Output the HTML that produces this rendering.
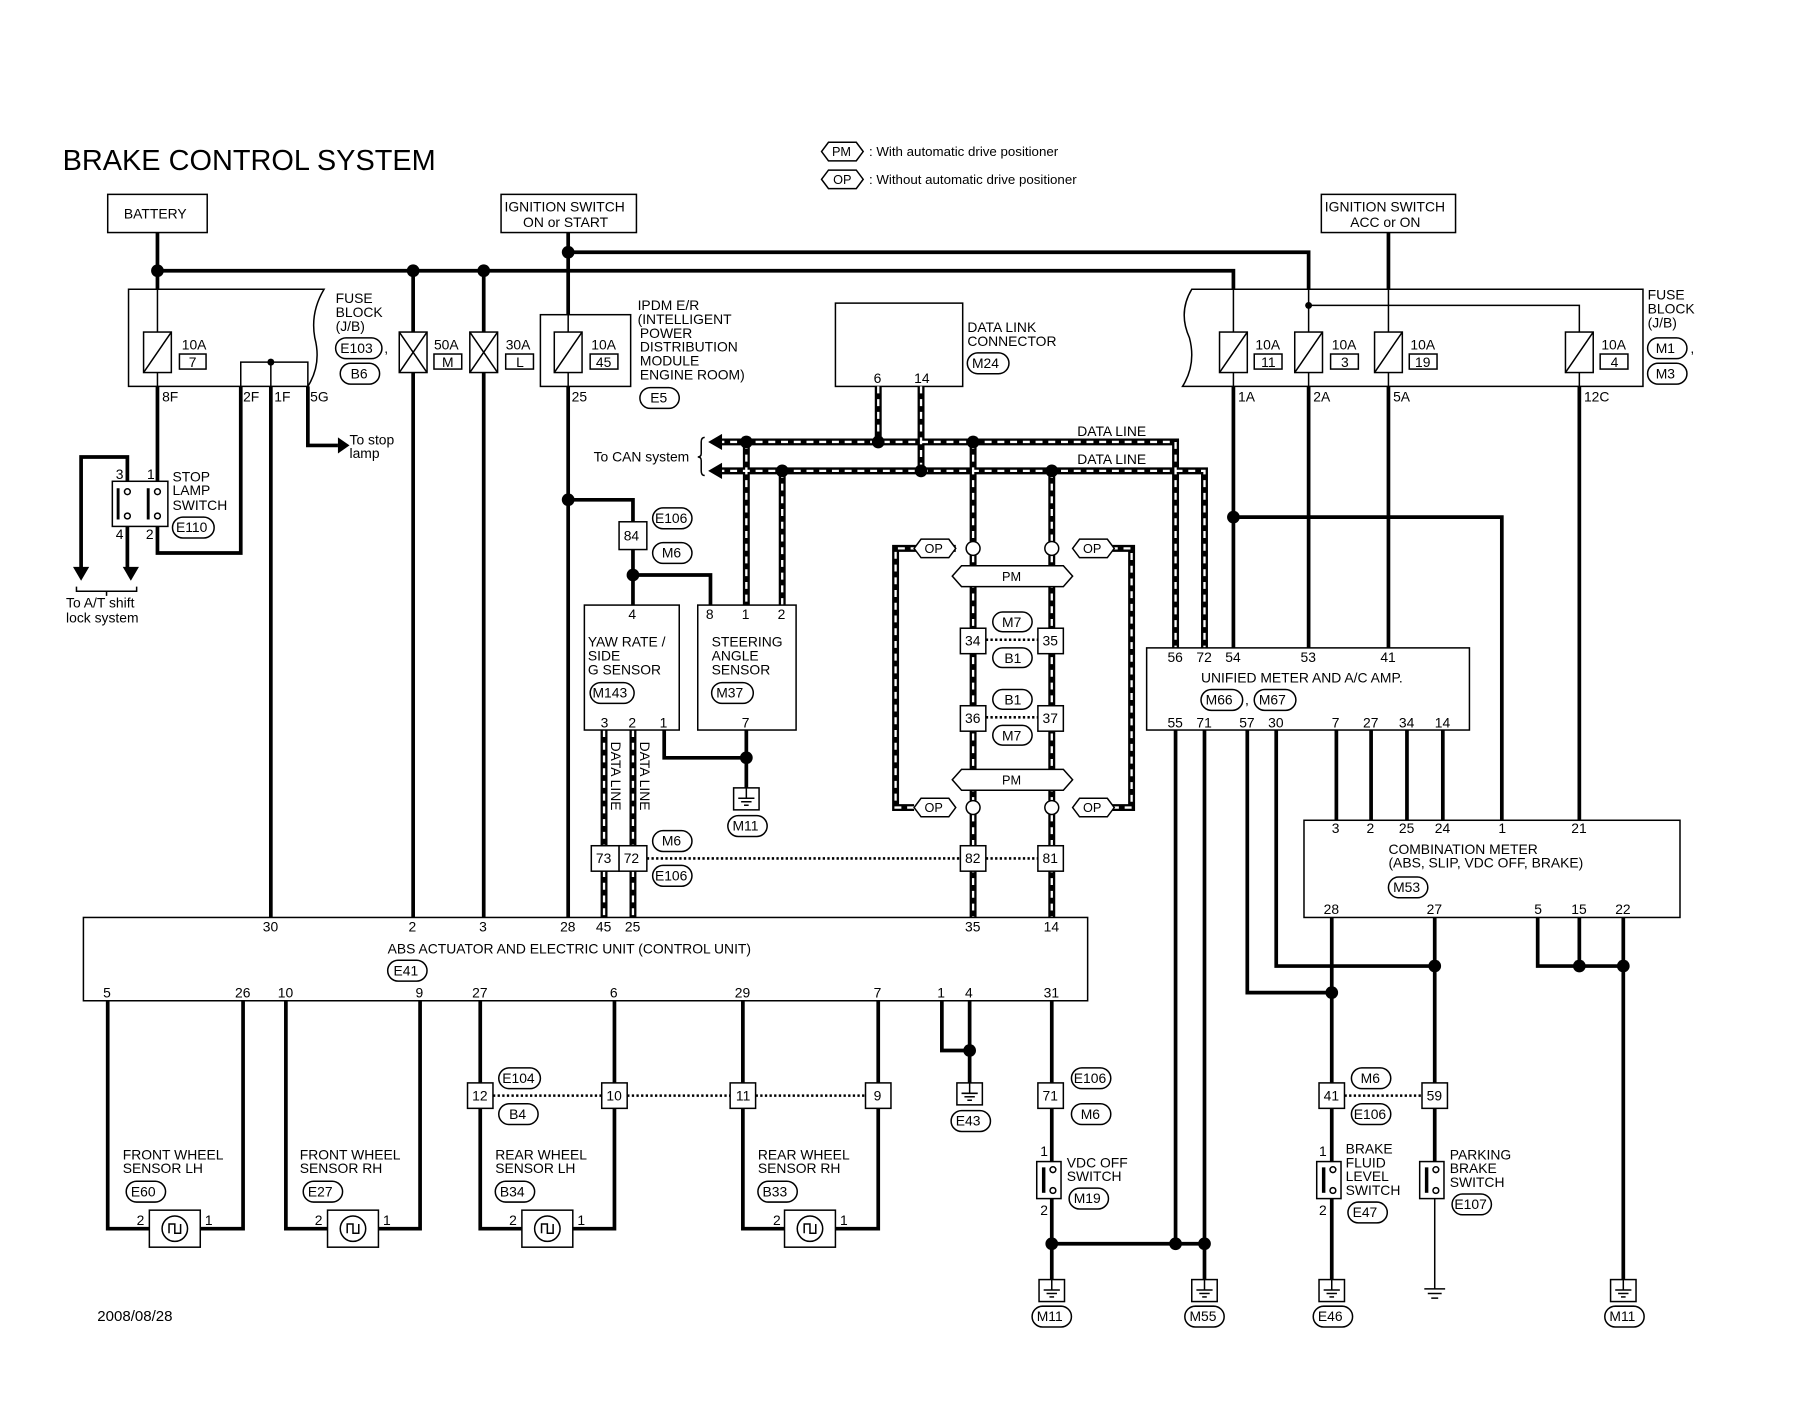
<!DOCTYPE html>
<html><head><meta charset="utf-8"><style>
html,body{margin:0;padding:0;background:#fff}
svg{display:block}
text{font-family:"Liberation Sans",Arial,sans-serif;font-size:12px;fill:#000}
.t{stroke:#000;stroke-width:3.2;fill:none}
.n{stroke:#000;stroke-width:1.3;fill:none}
.b{stroke:#000;stroke-width:1.3;fill:#fff}
.dk{stroke:#000;stroke-width:6;fill:none}
.dw{stroke:#fff;stroke-width:2;fill:none;stroke-dasharray:6 5}
.dot{stroke:#000;stroke-width:2.2;fill:none;stroke-dasharray:2 2}
.ov{stroke:#000;stroke-width:1.3;fill:#fff}
</style></head><body>
<svg width="1812" height="1408" viewBox="0 0 1566 1217" xmlns="http://www.w3.org/2000/svg">
<defs>
<g id="fz"><rect x="-12" y="0" width="24" height="35" class="b"/><line x1="-12" y1="35" x2="12" y2="0" class="n"/></g>
<g id="fx"><rect x="-12" y="0" width="24" height="35" class="b"/><line x1="-12" y1="35" x2="12" y2="0" class="n"/><line x1="-12" y1="0" x2="12" y2="35" class="n"/></g>
<g id="gnd"><rect x="-11" y="0" width="22" height="19" class="b"/><line x1="0" y1="0" x2="0" y2="9" class="n"/><line x1="-7" y1="9" x2="7" y2="9" class="n"/><line x1="-4.5" y1="12" x2="4.5" y2="12" class="n"/><line x1="-2" y1="15" x2="2" y2="15" class="n"/></g>
<g id="sen"><rect x="-22" y="-16" width="44" height="32" class="b"/><circle cx="0" cy="0" r="11" class="b"/><path d="M-5 4 V-4 H0 V4 H5 V-4" class="n"/></g>
<g id="sw"><rect x="-10" y="0" width="21" height="32" class="b"/><line x1="-4" y1="5" x2="-4" y2="27" stroke="#000" stroke-width="3"/><circle cx="4" cy="7" r="2.5" class="b"/><circle cx="4" cy="25" r="2.5" class="b"/></g>
<circle id="d" r="5.5" fill="#000"/>
</defs>

<!-- title & legend -->
<text x="54" y="147" style="font-size:25px">BRAKE CONTROL SYSTEM</text>
<path d="M710 131 l6 -8 h24 l6 8 l-6 8 h-24z" class="b"/><text x="719" y="135" style="font-size:11px">PM</text>
<text x="751" y="135" style="font-size:11.5px">: With automatic drive positioner</text>
<path d="M710 155 l6 -8 h24 l6 8 l-6 8 h-24z" class="b"/><text x="720" y="159" style="font-size:11px">OP</text>
<text x="751" y="159" style="font-size:11.5px">: Without automatic drive positioner</text>

<!-- source boxes -->
<rect x="93" y="168" width="86" height="33" class="b"/><text x="107" y="189">BATTERY</text>
<rect x="433" y="168" width="117" height="33" class="b"/><text x="436" y="183">IGNITION SWITCH</text><text x="452" y="196">ON or START</text>
<rect x="1142" y="168" width="116" height="33" class="b"/><text x="1145" y="183">IGNITION SWITCH</text><text x="1167" y="196">ACC or ON</text>

<!-- main busses -->
<path d="M136 201 V250 M136 234 H1066 V250" class="t"/>
<path d="M491 201 V272 M491 218 H1131 V250" class="t"/>
<path d="M1200 201 V250" class="t"/>
<use href="#d" x="136" y="234"/><use href="#d" x="357" y="234"/><use href="#d" x="418" y="234"/><use href="#d" x="491" y="218"/>

<!-- left fuse block -->
<path d="M111 250 H280 Q268 270 272 292 Q278 315 266 334 H111 Z" class="b"/>
<path d="M136 250 V287 M136 322 V334" class="n"/>
<use href="#fz" x="136" y="287"/>
<text x="157" y="302">10A</text><rect x="155" y="306" width="23" height="13" class="b"/><text x="163" y="317">7</text>
<path d="M208 334 V313 H266 V334 M234 313 V334" class="n"/><circle cx="234" cy="313" r="3" fill="#000"/>
<text x="290" y="262">FUSE</text><text x="290" y="274">BLOCK</text><text x="290" y="286">(J/B)</text>
<rect x="290" y="292" width="40" height="18" rx="9" class="ov"/><text x="294" y="305">E103</text><text x="332" y="305">,</text>
<rect x="294" y="314" width="34" height="18" rx="9" class="ov"/><text x="303" y="327">B6</text>
<text x="140" y="347">8F</text><text x="210" y="347">2F</text><text x="237" y="347">1F</text><text x="268" y="347">5G</text>

<!-- 50A 30A -->
<path d="M357 234 V793 M418 234 V793" class="t"/>
<use href="#fx" x="357" y="287"/><use href="#fx" x="418" y="287"/>
<text x="375" y="302">50A</text><rect x="375" y="306" width="24" height="13" class="b"/><text x="382" y="317">M</text>
<text x="437" y="302">30A</text><rect x="437" y="306" width="24" height="13" class="b"/><text x="446" y="317">L</text>

<!-- IPDM -->
<rect x="467" y="272" width="78" height="62" class="b"/>
<path d="M491 272 V287 M491 322 V334" class="n"/><use href="#fz" x="491" y="287"/>
<text x="511" y="302">10A</text><rect x="510" y="306" width="24" height="13" class="b"/><text x="515" y="317">45</text>
<text x="551" y="268">IPDM E/R</text><text x="551" y="280">(INTELLIGENT</text><text x="553" y="292">POWER</text><text x="553" y="304">DISTRIBUTION</text><text x="553" y="316">MODULE</text><text x="553" y="328">ENGINE ROOM)</text>
<text x="494" y="347">25</text>
<rect x="553" y="335" width="34" height="18" rx="9" class="ov"/><text x="562" y="348">E5</text>

<!-- DLC -->
<rect x="722" y="262" width="110" height="72" class="b"/>
<text x="755" y="331">6</text><text x="790" y="331">14</text>
<text x="836" y="287">DATA LINK</text><text x="836" y="299">CONNECTOR</text>
<rect x="836" y="305" width="36" height="18" rx="9" class="ov"/><text x="840" y="318">M24</text>

<!-- right fuse block -->
<path d="M1030 250 H1420 V334 H1022 Q1034 315 1028 292 Q1018 270 1030 250 Z" class="b"/>
<path d="M1066 250 V287 M1066 322 V334 M1131 250 V287 M1131 322 V334 M1200 250 V287 M1200 322 V334 M1131 264 H1365 V287 M1365 322 V334" class="n"/>
<circle cx="1131" cy="264" r="3" fill="#000"/>
<use href="#fz" x="1066" y="287"/><use href="#fz" x="1131" y="287"/><use href="#fz" x="1200" y="287"/><use href="#fz" x="1365" y="287"/>
<text x="1085" y="302">10A</text><rect x="1084" y="306" width="24" height="13" class="b"/><text x="1090" y="317">11</text>
<text x="1151" y="302">10A</text><rect x="1150" y="306" width="24" height="13" class="b"/><text x="1159" y="317">3</text>
<text x="1219" y="302">10A</text><rect x="1218" y="306" width="24" height="13" class="b"/><text x="1223" y="317">19</text>
<text x="1384" y="302">10A</text><rect x="1383" y="306" width="24" height="13" class="b"/><text x="1392" y="317">4</text>
<text x="1424" y="259">FUSE</text><text x="1424" y="271">BLOCK</text><text x="1424" y="283">(J/B)</text>
<rect x="1424" y="292" width="34" height="18" rx="9" class="ov"/><text x="1431" y="305">M1</text><text x="1461" y="305">,</text>
<rect x="1424" y="314" width="34" height="18" rx="9" class="ov"/><text x="1431" y="327">M3</text>
<text x="1070" y="347">1A</text><text x="1135" y="347">2A</text><text x="1204" y="347">5A</text><text x="1369" y="347">12C</text>

<!-- stop lamp switch -->
<path d="M136 334 V416 M136 455 V478 H208 V334" class="t"/>
<path d="M266 334 V385 H292" class="t"/><path d="M292 378 L302 385 L292 392Z" fill="#000"/>
<text x="302" y="384">To stop</text><text x="302" y="396">lamp</text>
<rect x="97" y="416" width="48" height="39" class="b"/>
<line x1="102" y1="422" x2="102" y2="449" stroke="#000" stroke-width="2.5"/><line x1="128" y1="422" x2="128" y2="449" stroke="#000" stroke-width="2.5"/>
<circle cx="110" cy="425" r="2.5" class="b"/><circle cx="110" cy="446" r="2.5" class="b"/><circle cx="136" cy="425" r="2.5" class="b"/><circle cx="136" cy="446" r="2.5" class="b"/>
<text x="100" y="414">3</text><text x="127" y="414">1</text><text x="100" y="466">4</text><text x="126" y="466">2</text>
<path d="M110 416 V395 H70 V492 M110 455 V492" class="t"/>
<path d="M63 490 L70 502 L77 490Z M106 490 L113 502 L120 490Z" fill="#000"/>
<path d="M66 507 V511 H118 V507 M92 511 V515" class="n"/>
<text x="57" y="525">To A/T shift</text><text x="57" y="538">lock system</text>
<text x="149" y="416">STOP</text><text x="149" y="428">LAMP</text><text x="149" y="441">SWITCH</text>
<rect x="149" y="447" width="36" height="18" rx="9" class="ov"/><text x="152" y="460">E110</text>

<!-- 1F down -->
<path d="M234 334 V793" class="t"/>
<!-- IPDM 25 down -->
<path d="M491 334 V793 M491 432 H547 V451 M547 475 V523 M547 497 H614 V523" class="t"/>
<use href="#d" x="491" y="432"/><use href="#d" x="547" y="497"/>
<rect x="535" y="451" width="24" height="24" class="b"/><text x="539" y="467">84</text>
<rect x="564" y="439" width="34" height="18" rx="9" class="ov"/><text x="566" y="452">E106</text>
<rect x="564" y="469" width="34" height="18" rx="9" class="ov"/><text x="572" y="482">M6</text>

<!-- data lines -->
<g>
<path d="M620 382 H1016 V560 M620 407 H1041 V560 M645 382 V523 M676 407 V523 M759 334 V382 M796 334 V407 M841 382 V468 M909 407 V468 M522 631 V793 M547 631 V793
M826 474 H774 V698 H790 M960 474 H978 V698 H960 M841 480 V692 M909 480 V692 M841 704 V793 M909 704 V793" class="dk"/>
<path d="M620 382 H1016 V560 M620 407 H1041 V560 M645 382 V523 M676 407 V523 M759 334 V382 M796 334 V407 M841 382 V468 M909 407 V468 M522 631 V793 M547 631 V793
M826 474 H774 V698 H790 M960 474 H978 V698 H960 M841 480 V692 M909 480 V692 M841 704 V793 M909 704 V793" class="dw"/>
</g>
<path d="M624 375 L612 382 L624 389Z M624 400 L612 407 L624 414Z" fill="#000"/>
<path d="M609 378 Q606 378 606 382 V392 Q606 395 603 395 Q606 395 606 398 V407 Q606 411 609 411" class="n"/>
<text x="513" y="399">To CAN system</text>
<text x="931" y="377">DATA LINE</text><text x="931" y="401">DATA LINE</text>
<use href="#d" x="645" y="382"/><use href="#d" x="759" y="382"/><use href="#d" x="841" y="382"/><use href="#d" x="676" y="407"/><use href="#d" x="796" y="407"/><use href="#d" x="909" y="407"/>

<!-- middle OP/PM -->
<circle cx="841" cy="474" r="6" class="b"/><circle cx="909" cy="474" r="6" class="b"/>
<circle cx="841" cy="698" r="6" class="b"/><circle cx="909" cy="698" r="6" class="b"/>
<path d="M790 474 l6 -8 h24 l6 8 l-6 8 h-24z" class="b"/><text x="799" y="478" style="font-size:11px">OP</text>
<path d="M927 474 l6 -8 h24 l6 8 l-6 8 h-24z" class="b"/><text x="936" y="478" style="font-size:11px">OP</text>
<path d="M790 698 l6 -8 h24 l6 8 l-6 8 h-24z" class="b"/><text x="799" y="702" style="font-size:11px">OP</text>
<path d="M927 698 l6 -8 h24 l6 8 l-6 8 h-24z" class="b"/><text x="936" y="702" style="font-size:11px">OP</text>
<path d="M823 498 l8 -9 h88 l8 9 l-8 9 h-88z" class="b"/><text x="866" y="502" style="font-size:11px">PM</text>
<path d="M823 674 l8 -9 h88 l8 9 l-8 9 h-88z" class="b"/><text x="866" y="678" style="font-size:11px">PM</text>
<rect x="830" y="543" width="22" height="22" class="b"/><text x="834" y="558">34</text>
<rect x="897" y="543" width="22" height="22" class="b"/><text x="901" y="558">35</text>
<rect x="830" y="610" width="22" height="22" class="b"/><text x="834" y="625">36</text>
<rect x="897" y="610" width="22" height="22" class="b"/><text x="901" y="625">37</text>
<path d="M852 553 H897 M852 620 H897" class="dot"/>
<rect x="858" y="529" width="34" height="17" rx="8.5" class="ov"/><text x="866" y="542">M7</text>
<rect x="858" y="560" width="34" height="17" rx="8.5" class="ov"/><text x="868" y="573">B1</text>
<rect x="858" y="596" width="34" height="17" rx="8.5" class="ov"/><text x="868" y="609">B1</text>
<rect x="858" y="627" width="34" height="17" rx="8.5" class="ov"/><text x="866" y="640">M7</text>

<!-- yaw & steering -->
<rect x="505" y="523" width="82" height="108" class="b"/>
<text x="543" y="535">4</text>
<text x="508" y="559">YAW RATE /</text><text x="508" y="571">SIDE</text><text x="508" y="583">G SENSOR</text>
<rect x="510" y="590" width="38" height="18" rx="9" class="ov"/><text x="512" y="603">M143</text>
<text x="519" y="629">3</text><text x="543" y="629">2</text><text x="570" y="629">1</text>
<rect x="603" y="523" width="85" height="108" class="b"/>
<text x="610" y="535">8</text><text x="641" y="535">1</text><text x="672" y="535">2</text>
<text x="615" y="559">STEERING</text><text x="615" y="571">ANGLE</text><text x="615" y="583">SENSOR</text>
<rect x="615" y="590" width="36" height="18" rx="9" class="ov"/><text x="619" y="603">M37</text>
<text x="641" y="629">7</text>
<path d="M574 631 V655 H645 M645 631 V681" class="t"/><use href="#d" x="645" y="655"/>
<use href="#gnd" x="645" y="681"/>
<rect x="629" y="705" width="34" height="18" rx="9" class="ov"/><text x="633" y="718">M11</text>
<text transform="translate(528 641) rotate(90)">DATA LINE</text>
<text transform="translate(553 641) rotate(90)">DATA LINE</text>
<rect x="511" y="731" width="24" height="22" class="b"/><text x="515" y="746">73</text>
<rect x="535" y="731" width="24" height="22" class="b"/><text x="539" y="746">72</text>
<rect x="830" y="731" width="22" height="22" class="b"/><text x="834" y="746">82</text>
<rect x="897" y="731" width="22" height="22" class="b"/><text x="901" y="746">81</text>
<path d="M559 742 H830 M852 742 H897" class="dot"/>
<rect x="564" y="718" width="34" height="18" rx="9" class="ov"/><text x="572" y="731">M6</text>
<rect x="564" y="748" width="34" height="18" rx="9" class="ov"/><text x="566" y="761">E106</text>

<!-- unified meter -->
<path d="M1066 334 V560 M1131 334 V560 M1200 334 V560 M1066 447 H1298 V709 M1365 334 V709" class="t"/>
<use href="#d" x="1066" y="447"/>
<rect x="991" y="560" width="279" height="71" class="b"/>
<text x="1009" y="572">56</text><text x="1034" y="572">72</text><text x="1059" y="572">54</text><text x="1124" y="572">53</text><text x="1193" y="572">41</text>
<text x="1038" y="590">UNIFIED METER AND A/C AMP.</text>
<rect x="1038" y="596" width="36" height="18" rx="9" class="ov"/><text x="1042" y="609">M66</text><text x="1076" y="609">,</text>
<rect x="1084" y="596" width="36" height="18" rx="9" class="ov"/><text x="1088" y="609">M67</text>
<text x="1009" y="629">55</text><text x="1034" y="629">71</text><text x="1071" y="629">57</text><text x="1096" y="629">30</text><text x="1151" y="629">7</text><text x="1178" y="629">27</text><text x="1209" y="629">34</text><text x="1240" y="629">14</text>
<path d="M1155 631 V709 M1185 631 V709 M1216 631 V709 M1247 631 V709" class="t"/>
<rect x="1127" y="709" width="325" height="84" class="b"/>
<text x="1151" y="720">3</text><text x="1181" y="720">2</text><text x="1209" y="720">25</text><text x="1240" y="720">24</text><text x="1295" y="720">1</text><text x="1358" y="720">21</text>
<text x="1200" y="738">COMBINATION METER</text><text x="1200" y="750">(ABS, SLIP, VDC OFF, BRAKE)</text>
<rect x="1200" y="758" width="34" height="18" rx="9" class="ov"/><text x="1204" y="771">M53</text>
<text x="1144" y="790">28</text><text x="1233" y="790">27</text><text x="1326" y="790">5</text><text x="1358" y="790">15</text><text x="1396" y="790">22</text>
<path d="M1078 631 V858 H1151 M1103 631 V835 H1240 M1151 793 V936 M1240 793 V936 M1329 793 V835 H1403 M1365 793 V835 M1403 793 V1106" class="t"/>
<use href="#d" x="1151" y="858"/><use href="#d" x="1240" y="835"/><use href="#d" x="1365" y="835"/><use href="#d" x="1403" y="835"/>
<rect x="1140" y="936" width="22" height="22" class="b"/><text x="1144" y="951">41</text>
<rect x="1229" y="936" width="22" height="22" class="b"/><text x="1233" y="951">59</text>
<path d="M1162 947 H1229" class="dot"/>
<rect x="1168" y="923" width="34" height="18" rx="9" class="ov"/><text x="1176" y="936">M6</text>
<rect x="1168" y="954" width="34" height="18" rx="9" class="ov"/><text x="1170" y="967">E106</text>
<path d="M1151 958 V1004 M1151 1036 V1106" class="t"/>
<use href="#sw" x="1148" y="1004"/>
<text x="1140" y="999">1</text><text x="1140" y="1050">2</text>
<text x="1163" y="997">BRAKE</text><text x="1163" y="1009">FLUID</text><text x="1163" y="1021">LEVEL</text><text x="1163" y="1033">SWITCH</text>
<rect x="1165" y="1039" width="34" height="18" rx="9" class="ov"/><text x="1169" y="1052">E47</text>
<use href="#gnd" x="1151" y="1106"/>
<rect x="1135" y="1129" width="34" height="18" rx="9" class="ov"/><text x="1139" y="1142">E46</text>
<path d="M1240 958 V1004" class="t"/><use href="#sw" x="1237" y="1004"/>
<path d="M1240 1036 V1114 M1231 1114 H1249 M1234 1118 H1246 M1237 1122 H1243" class="n"/>
<text x="1253" y="1002">PARKING</text><text x="1253" y="1014">BRAKE</text><text x="1253" y="1026">SWITCH</text>
<rect x="1255" y="1032" width="34" height="18" rx="9" class="ov"/><text x="1257" y="1045">E107</text>
<use href="#gnd" x="1403" y="1106"/>
<rect x="1387" y="1129" width="34" height="18" rx="9" class="ov"/><text x="1391" y="1142">M11</text>

<!-- ABS unit -->
<rect x="72" y="793" width="868" height="72" class="b"/>
<text x="227" y="805">30</text><text x="353" y="805">2</text><text x="414" y="805">3</text><text x="484" y="805">28</text><text x="515" y="805">45</text><text x="540" y="805">25</text><text x="834" y="805">35</text><text x="902" y="805">14</text>
<text x="335" y="824">ABS ACTUATOR AND ELECTRIC UNIT (CONTROL UNIT)</text>
<rect x="335" y="830" width="34" height="18" rx="9" class="ov"/><text x="340" y="843">E41</text>
<text x="89" y="862">5</text><text x="203" y="862">26</text><text x="240" y="862">10</text><text x="359" y="862">9</text><text x="408" y="862">27</text><text x="527" y="862">6</text><text x="635" y="862">29</text><text x="755" y="862">7</text><text x="810" y="862">1</text><text x="834" y="862">4</text><text x="902" y="862">31</text>

<!-- wheel sensors -->
<path d="M93 865 V1062 H129 M173 1062 H210 V865 M247 865 V1062 H283 M327 1062 H363 V865 M415 865 V936 M415 958 V1062 H451 M495 1062 H531 V958 M531 936 V865 M642 865 V936 M642 958 V1062 H678 M722 1062 H759 V958 M759 936 V865" class="t"/>
<use href="#sen" x="151" y="1062"/><use href="#sen" x="305" y="1062"/><use href="#sen" x="473" y="1062"/><use href="#sen" x="700" y="1062"/>
<text x="118" y="1059">2</text><text x="177" y="1059">1</text><text x="272" y="1059">2</text><text x="331" y="1059">1</text><text x="440" y="1059">2</text><text x="499" y="1059">1</text><text x="668" y="1059">2</text><text x="726" y="1059">1</text>
<text x="106" y="1002">FRONT WHEEL</text><text x="106" y="1014">SENSOR LH</text>
<rect x="109" y="1021" width="34" height="18" rx="9" class="ov"/><text x="113" y="1034">E60</text>
<text x="259" y="1002">FRONT WHEEL</text><text x="259" y="1014">SENSOR RH</text>
<rect x="262" y="1021" width="34" height="18" rx="9" class="ov"/><text x="266" y="1034">E27</text>
<text x="428" y="1002">REAR WHEEL</text><text x="428" y="1014">SENSOR LH</text>
<rect x="428" y="1021" width="34" height="18" rx="9" class="ov"/><text x="432" y="1034">B34</text>
<text x="655" y="1002">REAR WHEEL</text><text x="655" y="1014">SENSOR RH</text>
<rect x="655" y="1021" width="34" height="18" rx="9" class="ov"/><text x="659" y="1034">B33</text>
<rect x="404" y="936" width="22" height="22" class="b"/><text x="408" y="951">12</text>
<rect x="520" y="936" width="22" height="22" class="b"/><text x="524" y="951">10</text>
<rect x="631" y="936" width="22" height="22" class="b"/><text x="636" y="951">11</text>
<rect x="748" y="936" width="22" height="22" class="b"/><text x="755" y="951">9</text>
<path d="M426 947 H520 M542 947 H631 M653 947 H748" class="dot"/>
<rect x="431" y="923" width="36" height="18" rx="9" class="ov"/><text x="434" y="936">E104</text>
<rect x="431" y="954" width="34" height="18" rx="9" class="ov"/><text x="440" y="967">B4</text>

<!-- ground E43 -->
<path d="M814 865 V908 H838 M838 865 V938" class="t"/><use href="#d" x="838" y="908"/>
<use href="#gnd" x="838" y="936"/>
<rect x="822" y="960" width="34" height="18" rx="9" class="ov"/><text x="826" y="973">E43</text>

<!-- VDC off -->
<path d="M909 865 V936 M909 958 V1004 M909 1036 V1106 M909 1075 H1041 M1016 631 V1075 M1041 631 V1106" class="t"/>
<use href="#d" x="909" y="1075"/><use href="#d" x="1016" y="1075"/><use href="#d" x="1041" y="1075"/>
<rect x="897" y="936" width="22" height="22" class="b"/><text x="901" y="951">71</text>
<rect x="926" y="923" width="34" height="18" rx="9" class="ov"/><text x="928" y="936">E106</text>
<rect x="926" y="954" width="34" height="18" rx="9" class="ov"/><text x="934" y="967">M6</text>
<use href="#sw" x="906" y="1004"/>
<text x="899" y="999">1</text><text x="899" y="1050">2</text>
<text x="922" y="1009">VDC OFF</text><text x="922" y="1021">SWITCH</text>
<rect x="924" y="1027" width="34" height="18" rx="9" class="ov"/><text x="928" y="1040">M19</text>
<use href="#gnd" x="909" y="1106"/>
<rect x="892" y="1129" width="34" height="18" rx="9" class="ov"/><text x="896" y="1142">M11</text>
<use href="#gnd" x="1041" y="1106"/>
<rect x="1024" y="1129" width="34" height="18" rx="9" class="ov"/><text x="1028" y="1142">M55</text>

<text x="84" y="1142" style="font-size:13px">2008/08/28</text>
</svg>
</body></html>
